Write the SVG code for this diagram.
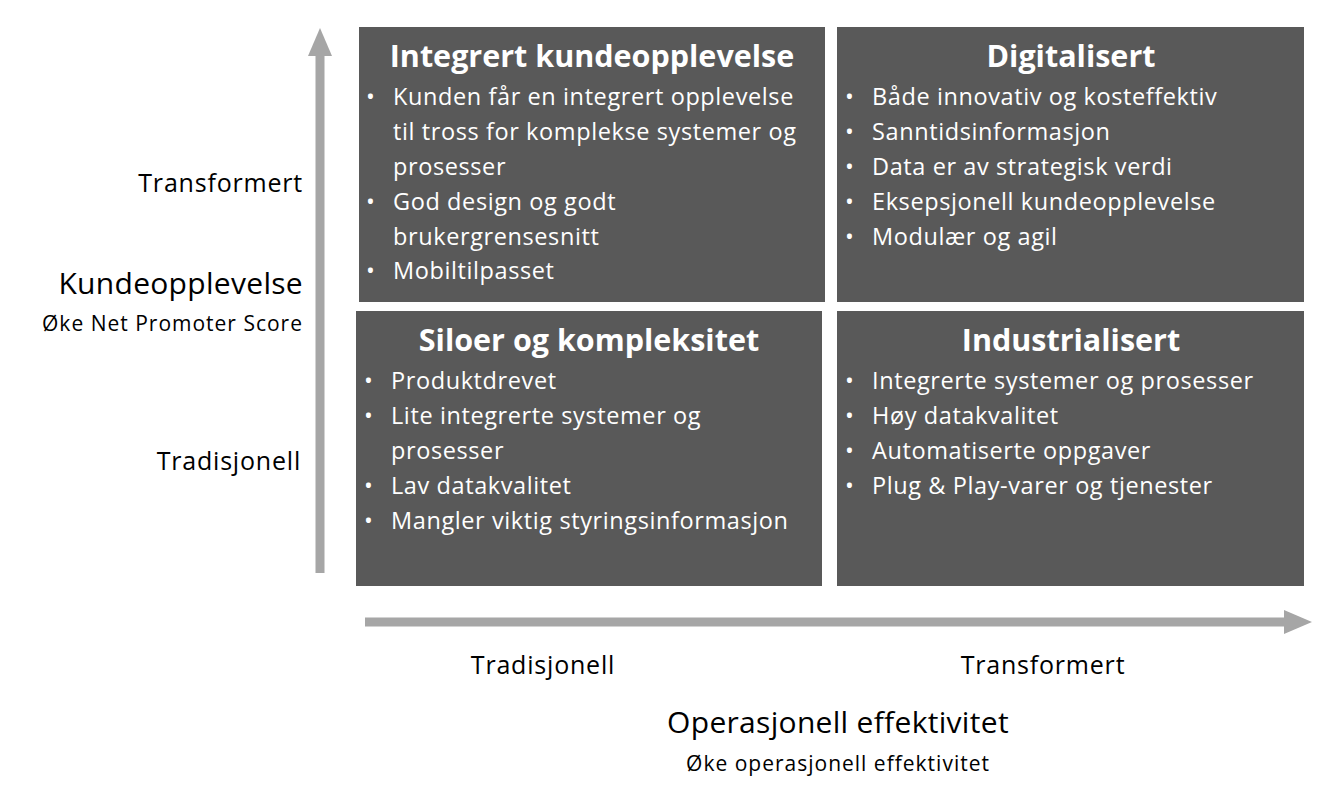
<svg xmlns="http://www.w3.org/2000/svg" width="1339" height="798" viewBox="0 0 1339 798">
<style>
.box{fill:#595959}
.t{font-family:"Open Sans","Liberation Sans",sans-serif;fill:#fff;font-size:23.5px;letter-spacing:0.6px}
.h{font-family:"Open Sans","Liberation Sans",sans-serif;fill:#fff;font-size:30.5px;font-weight:bold;text-anchor:middle}
.l{font-family:"Open Sans","Liberation Sans",sans-serif;fill:#000;font-size:25px;letter-spacing:0.8px}
.big{font-size:30px;letter-spacing:0.3px}
.sm{font-size:21px;letter-spacing:1px}
.ax{stroke:#a6a6a6;stroke-width:9;fill:none}
</style>
<rect width="1339" height="798" fill="#fff"/>
<g id="connectors">
<line class="ax" x1="320" y1="573" x2="320" y2="55"/>
<polygon points="320,28 308,56 332,56" fill="#a6a6a6"/>
<line class="ax" x1="365" y1="622" x2="1285" y2="622"/>
<polygon points="1312,622 1284,610 1284,634" fill="#a6a6a6"/>
</g>
<g id="q1">
<rect class="box" x="359" y="27" width="466" height="275"/>
<text class="h" x="592" y="67">Integrert kundeopplevelse</text>
<text class="t"><tspan x="366" y="105">•</tspan><tspan x="393" y="105">Kunden får en integrert opplevelse</tspan><tspan x="393" y="140">til tross for komplekse systemer og</tspan><tspan x="393" y="175">prosesser</tspan><tspan x="366" y="210">•</tspan><tspan x="393" y="210">God design og godt</tspan><tspan x="393" y="245">brukergrensesnitt</tspan><tspan x="366" y="279">•</tspan><tspan x="393" y="279">Mobiltilpasset</tspan></text>
</g>
<g id="q2">
<rect class="box" x="837" y="27" width="467" height="275"/>
<text class="h" x="1071" y="67">Digitalisert</text>
<text class="t"><tspan x="845" y="105">•</tspan><tspan x="872" y="105">Både innovativ og kosteffektiv</tspan><tspan x="845" y="140">•</tspan><tspan x="872" y="140">Sanntidsinformasjon</tspan><tspan x="845" y="175">•</tspan><tspan x="872" y="175">Data er av strategisk verdi</tspan><tspan x="845" y="210">•</tspan><tspan x="872" y="210">Eksepsjonell kundeopplevelse</tspan><tspan x="845" y="245">•</tspan><tspan x="872" y="245">Modulær og agil</tspan></text>
</g>
<g id="q3">
<rect class="box" x="356" y="311" width="466" height="275"/>
<text class="h" x="589" y="351">Siloer og kompleksitet</text>
<text class="t"><tspan x="364" y="389">•</tspan><tspan x="391" y="389">Produktdrevet</tspan><tspan x="364" y="424">•</tspan><tspan x="391" y="424">Lite integrerte systemer og</tspan><tspan x="391" y="459">prosesser</tspan><tspan x="364" y="494">•</tspan><tspan x="391" y="494">Lav datakvalitet</tspan><tspan x="364" y="529">•</tspan><tspan x="391" y="529">Mangler viktig styringsinformasjon</tspan></text>
</g>
<g id="q4">
<rect class="box" x="837" y="311" width="467" height="275"/>
<text class="h" x="1071" y="351">Industrialisert</text>
<text class="t"><tspan x="845" y="389">•</tspan><tspan x="872" y="389">Integrerte systemer og prosesser</tspan><tspan x="845" y="424">•</tspan><tspan x="872" y="424">Høy datakvalitet</tspan><tspan x="845" y="459">•</tspan><tspan x="872" y="459">Automatiserte oppgaver</tspan><tspan x="845" y="494">•</tspan><tspan x="872" y="494">Plug &amp; Play-varer og tjenester</tspan></text>
</g>
<g id="labels">
<text class="l" x="303" y="192" text-anchor="end">Transformert</text>
<text class="l big" x="303" y="294" text-anchor="end">Kundeopplevelse</text>
<text class="l sm" x="303" y="331" text-anchor="end">Øke Net Promoter Score</text>
<text class="l" x="301" y="470" text-anchor="end">Tradisjonell</text>
<text class="l" x="543" y="674" text-anchor="middle">Tradisjonell</text>
<text class="l" x="1043" y="674" text-anchor="middle">Transformert</text>
<text class="l big" x="838" y="733" text-anchor="middle">Operasjonell effektivitet</text>
<text class="l sm" x="838" y="771" text-anchor="middle">Øke operasjonell effektivitet</text>
</g>
</svg>
